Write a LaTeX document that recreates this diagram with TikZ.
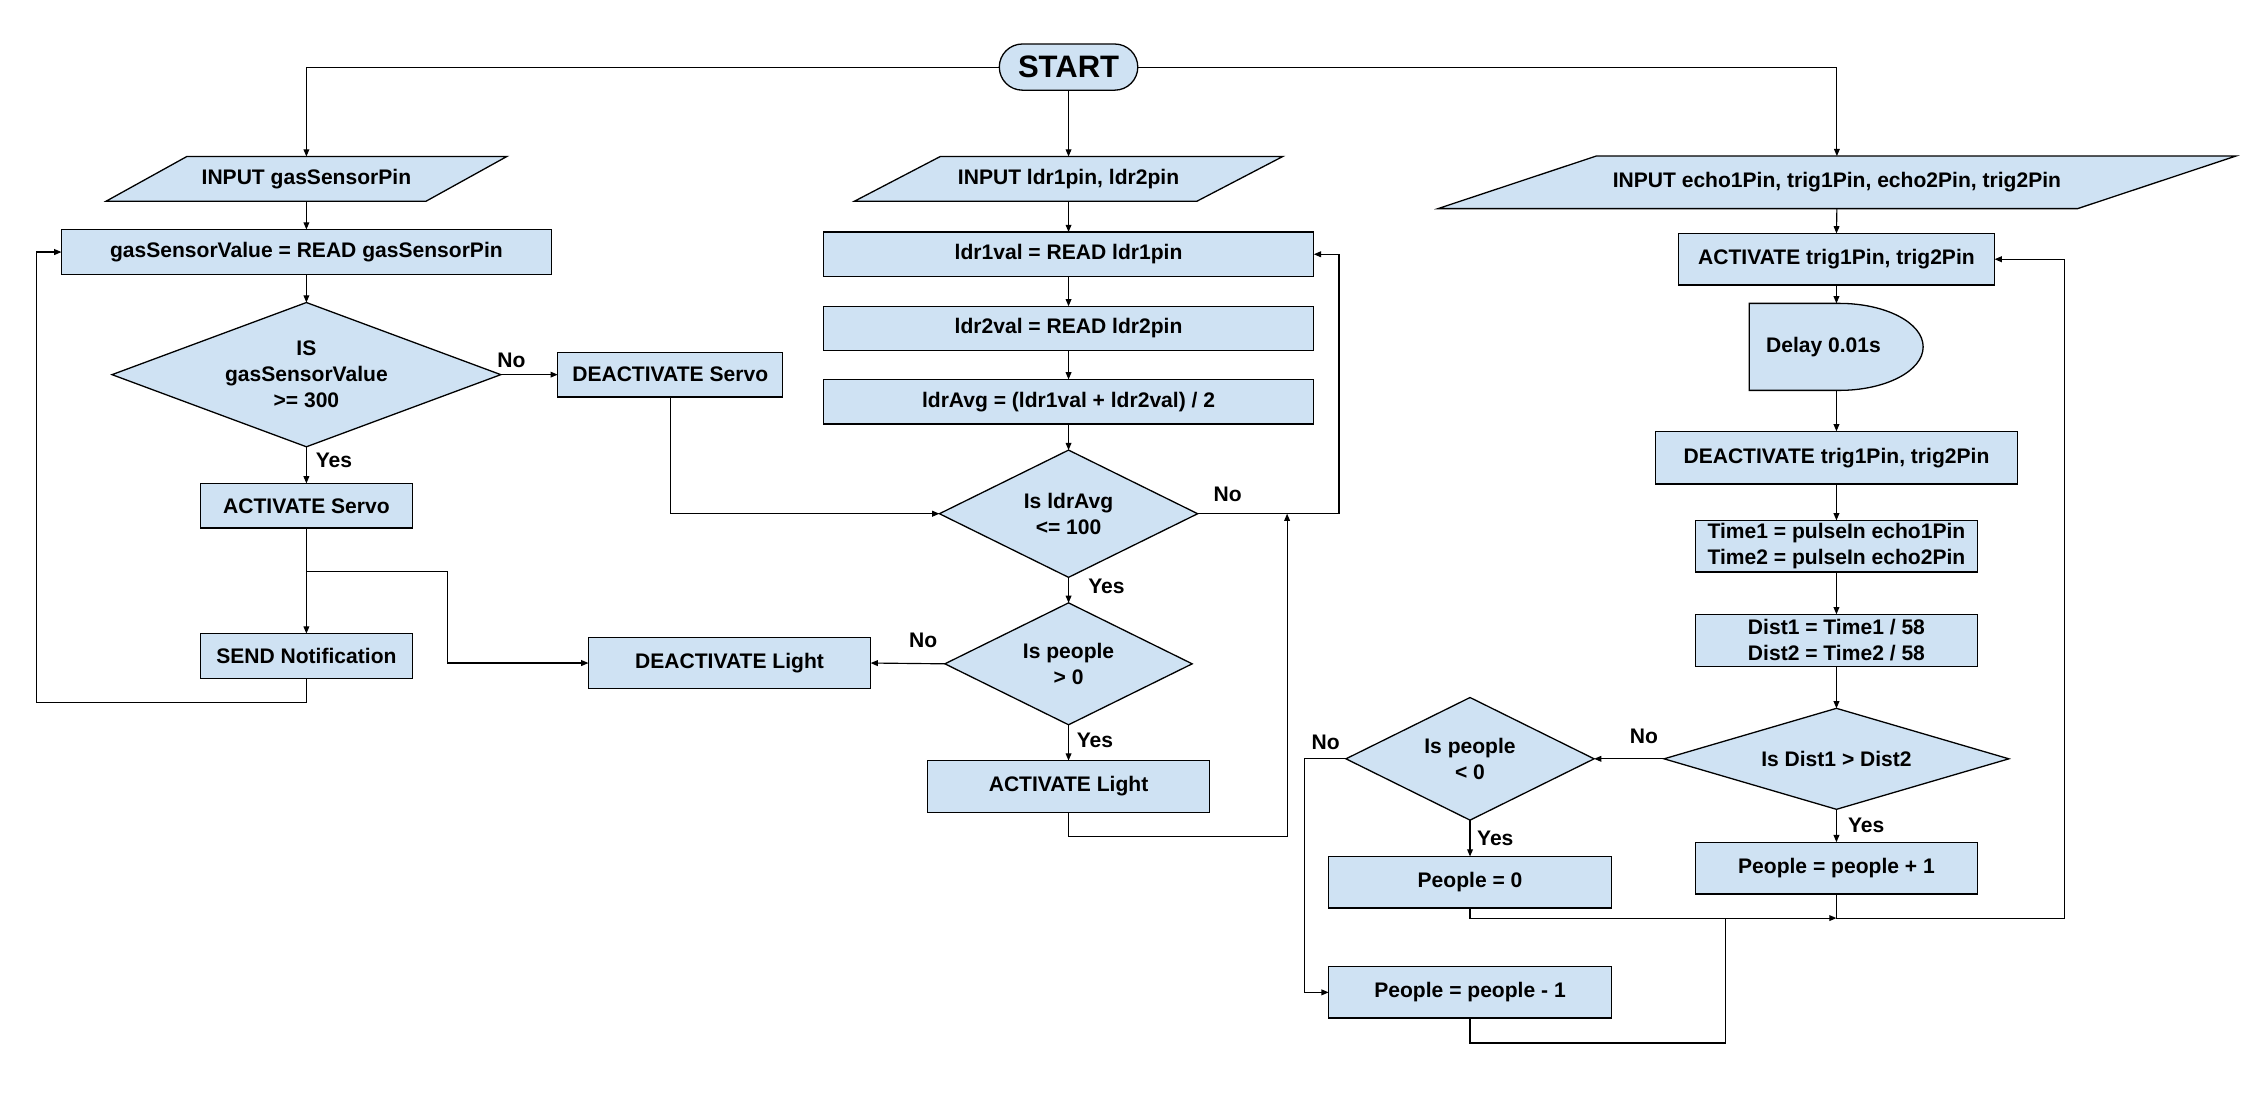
\documentclass[tikz,border=0pt]{standalone}
\usepackage{fontspec}
\setmainfont{Liberation Sans}
\usetikzlibrary{shapes.geometric,arrows.meta,calc}
\definecolor{boxfill}{HTML}{CFE2F3}
\tikzset{
  base/.style={font=\fontsize{14.6}{18}\selectfont\bfseries, align=center, inner sep=0pt, outer sep=0pt},
  proc/.style={base, rectangle, draw=black, line width=0.9pt, fill=boxfill},
  dec/.style={base, diamond, draw=black, line width=0.9pt, fill=boxfill},
  lbl/.style={base},
  shapeline/.style={draw=black, line width=0.9pt, fill=boxfill},
  arr/.style={line width=0.8pt, -{Triangle[length=5pt,width=4pt]}},
  ln/.style={line width=0.8pt},
}
% name, cx, cy, w, h, skew, text
\newcommand\iobox[7]{%
  \draw[shapeline] ({#2-#4/2},{#3+#5/2}) -- ({#2+#4/2-#6},{#3+#5/2}) -- ({#2+#4/2},{#3-#5/2}) -- ({#2-#4/2+#6},{#3-#5/2}) -- cycle;
  \node[base, minimum width=#4pt, minimum height=#5pt] (#1) at (#2,#3) {#7};
}
\begin{document}
\begin{tikzpicture}[x=1pt,y=-1pt]
\useasboundingbox (0,0) rectangle (1567.3,757.7);

% ---------- start ----------
\node[base, draw=black, line width=0.9pt, fill=boxfill, rounded corners=16pt, minimum width=96pt, minimum height=32pt, font=\fontsize{21.5}{24}\selectfont\bfseries] (start) at (740.7,46.5) {START};

% ---------- left column ----------
\iobox{in1}{212.4}{124}{277.8}{31}{56}{INPUT gasSensorPin}
\node[proc, minimum width=339.6pt, minimum height=31.2pt] (gsv) at (212.4,174.7) {gasSensorValue = READ gasSensorPin};
\node[dec, minimum width=269.5pt, minimum height=100pt, aspect=2.7] (d1) at (212.4,259.7) {IS\\gasSensorValue\\>= 300};
\node[proc, minimum width=156pt, minimum height=31pt] (dServo) at (464.6,259.7) {DEACTIVATE Servo};
\node[proc, minimum width=146.8pt, minimum height=31pt] (aServo) at (212.4,350.6) {ACTIVATE Servo};
\node[proc, minimum width=146.8pt, minimum height=31pt] (send) at (212.4,454.7) {SEND Notification};
\node[proc, minimum width=195.6pt, minimum height=35.6pt] (dLight) at (505.7,459.6) {DEACTIVATE Light};

% ---------- middle column ----------
\iobox{in2}{740.7}{124}{296.9}{31}{59.5}{INPUT ldr1pin, ldr2pin}
\node[proc, minimum width=340pt, minimum height=30.9pt] (r1) at (740.7,176.25) {ldr1val = READ ldr1pin};
\node[proc, minimum width=340pt, minimum height=30.5pt] (r2) at (740.7,227.55) {ldr2val = READ ldr2pin};
\node[proc, minimum width=340pt, minimum height=30.9pt] (avg) at (740.7,278.45) {ldrAvg = (ldr1val + ldr2val) / 2};
\node[dec, minimum width=179pt, minimum height=88.2pt, aspect=2.03] (d2) at (740.7,356.1) {Is ldrAvg\\<= 100};
\node[dec, minimum width=171.4pt, minimum height=84.5pt, aspect=2.03] (d3) at (740.7,460.15) {Is people\\> 0};
\node[proc, minimum width=195.5pt, minimum height=35.8pt] (aLight) at (740.7,545.1) {ACTIVATE Light};

% ---------- right column ----------
\iobox{in3}{1273.3}{126.4}{553}{36.4}{109.6}{INPUT echo1Pin, trig1Pin, echo2Pin, trig2Pin}
\node[proc, minimum width=219.2pt, minimum height=35.8pt] (trig) at (1273,179.7) {ACTIVATE trig1Pin, trig2Pin};
\draw[shapeline] (1212.5,210.3) -- (1275,210.3) arc[start angle=90, end angle=-90, x radius=58.1pt, y radius=30.15pt] -- (1212.5,270.6) -- cycle;
\node[base, minimum width=120.6pt, minimum height=60.3pt] (delay) at (1273,240.45) {Delay 0.01s\hspace{18pt}};
\node[proc, minimum width=251pt, minimum height=36.5pt] (deact) at (1273,317.25) {DEACTIVATE trig1Pin, trig2Pin};
\node[proc, minimum width=195.4pt, minimum height=35.9pt] (time) at (1273,378.65) {Time1 = pulseIn echo1Pin\\Time2 = pulseIn echo2Pin};
\node[proc, minimum width=195.4pt, minimum height=36.1pt] (dist) at (1273,443.85) {Dist1 = Time1 / 58\\Dist2 = Time2 / 58};
\node[dec, minimum width=239pt, minimum height=70pt, aspect=3.4] (d4) at (1273,526) {Is Dist1 > Dist2};
\node[proc, minimum width=195.4pt, minimum height=36pt] (pplus) at (1273,601.8) {People = people + 1};
\node[dec, minimum width=172pt, minimum height=85pt, aspect=2.02] (d5) at (1019,526) {Is people\\< 0};
\node[proc, minimum width=196pt, minimum height=35.8pt] (pzero) at (1019,611.6) {People = 0};
\node[proc, minimum width=196pt, minimum height=35.7pt] (pminus) at (1019,687.9) {People = people - 1};

% ---------- labels ----------
\node[lbl] (l1no) at (354.5,249.8) {No};
\node[lbl] (l1yes) at (231.5,319) {Yes};
\node[lbl] (l2no) at (851,343) {No};
\node[lbl] (l2yes) at (767,406.6) {Yes};
\node[lbl] (l3no) at (640,443.8) {No};
\node[lbl] (l3yes) at (759,513) {Yes};
\node[lbl] (l4no) at (1139.5,510.6) {No};
\node[lbl] (l4yes) at (1293.6,571.8) {Yes};
\node[lbl] (l5no) at (919,514.8) {No};
\node[lbl] (l5yes) at (1036.5,581) {Yes};

% ---------- helper coordinates ----------
\coordinate (b1) at (212.4,396.2);
\coordinate (j1) at (892.2,356.1);
\coordinate (j2) at (1273,636.4);

% ---------- connectors ----------
\draw[arr] (start.west) -| (in1.north);
\draw[arr] (start.south) -- (in2.north);
\draw[arr] (start.east) -| (in3.north);

\draw[arr] (in1.south) -- (gsv.north);
\draw[arr] (gsv.south) -- (d1.north);
\draw[arr] (d1.east) -- (dServo.west);
\draw[arr] (d1.south) -- (aServo.north);
\draw[arr] (aServo.south) -- (send.north);
\draw[arr] (b1) -- (310.2,396.2) |- (dLight.west);
\draw[arr] (send.south) |- (25.5,487) |- (gsv.west);
\draw[arr] (dServo.south) |- (d2.west);

\draw[arr] (in2.south) -- (r1.north);
\draw[arr] (r1.south) -- (r2.north);
\draw[arr] (r2.south) -- (avg.north);
\draw[arr] (avg.south) -- (d2.north);
\draw[arr] (d2.east) -- (928.2,356.1) |- (r1.east);
\draw[arr] (d2.south) -- (d3.north);
\draw[arr] (d3.west) -- (dLight.east);
\draw[arr] (d3.south) -- (aLight.north);
\draw[arr] (aLight.south) |- (892.2,579.9) -- (j1);

\draw[arr] (in3.south) -- (trig.north);
\draw[arr] (trig.south) -- (delay.north);
\draw[arr] (delay.south) -- (deact.north);
\draw[arr] (deact.south) -- (time.north);
\draw[arr] (time.south) -- (dist.north);
\draw[arr] (dist.south) -- (d4.north);
\draw[arr] (d4.south) -- (pplus.north);
\draw[arr] (d4.west) -- (d5.east);
\draw[arr] (d5.south) -- (pzero.north);
\draw[arr] (d5.west) -- (904.1,526) |- (pminus.west);
\draw[arr] (pzero.south) |- (j2);
\draw[arr] (pplus.south) |- (1431.3,636.4) |- (trig.east);
\draw[ln] (pminus.south) |- (1196.1,723) -- (1196.1,636.4);
\end{tikzpicture}
\end{document}
